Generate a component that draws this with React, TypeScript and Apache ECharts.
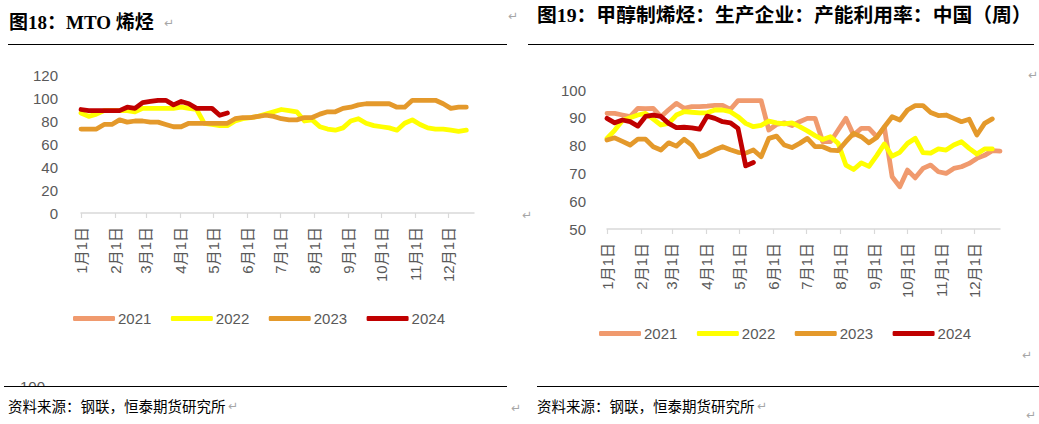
import React, { useEffect, useRef } from "react";
import * as echarts from "echarts";

// ---------- data ----------
const YEARS = ["2021", "2022", "2023", "2024"];
const COLORS = ["#F09A6E", "#FFFF00", "#E4992B", "#C00000"];
const MONTH_START_DAYS = [0, 31, 59, 90, 120, 151, 181, 212, 243, 273, 304, 334];
const MONTH_LABELS = ["1月1日", "2月1日", "3月1日", "4月1日", "5月1日", "6月1日", "7月1日", "8月1日", "9月1日", "10月1日", "11月1日", "12月1日"];
const WEEK_DAYS = 7; // weekly observations

// 图18 MTO 烯烃 (weekly)
const mto2021: number[] = [];
const mto2022 = [87, 84, 86, 89, 89, 89, 89, 88, 91, 91, 91, 91, 91, 92, 91, 90, 78, 77, 76, 76, 80, 82, 83, 84, 86, 88, 90, 89, 88, 80, 81, 75, 73, 72, 74, 80, 82, 78, 76, 75, 74, 72, 78, 81, 77, 74, 73, 73, 72, 71, 72];
const mto2023 = [73, 73, 73, 77, 77, 81, 79, 80, 80, 79, 79, 77, 75, 75, 78, 78, 78, 78, 78, 78, 82, 83, 83, 84, 85, 84, 82, 81, 81, 83, 83, 86, 88, 88, 91, 92, 94, 95, 95, 95, 95, 92, 92, 98, 98, 98, 98, 95, 91, 92, 92];
const mto2024 = [90, 89, 89, 89, 89, 89, 92, 91, 96, 97, 98, 98, 94, 97, 95, 91, 91, 91, 85, 87];

// 图19 甲醇制烯烃 产能利用率 (weekly)
const util2021 = [91.6, 91.6, 91, 90.4, 93.4, 93.3, 93.4, 90.4, 92.9, 95.2, 93.4, 94, 94, 94.2, 94.5, 94.5, 93, 96.2, 96.2, 96.2, 96.2, 85.6, 87.6, 88.2, 87.2, 88.6, 89.8, 89.8, 81.4, 81.4, 85.6, 89.8, 83.8, 86.2, 86.2, 83.2, 86.5, 68.8, 65.2, 71.2, 68.4, 71.8, 73, 70.6, 70, 71.8, 72.4, 73.6, 75.4, 76.5, 78.2, 78];
const util2022 = [82.6, 85.5, 89, 90, 91, 91.6, 89.5, 87.4, 88, 91, 92.2, 92, 91.8, 91.8, 92.8, 92.8, 92.2, 90.4, 88, 86.8, 87.3, 88.8, 88.2, 87.8, 88.2, 86.8, 85.3, 83.6, 82.2, 83.2, 80.8, 73, 71.4, 73.8, 72.5, 76.4, 80.6, 76.2, 77.6, 80.8, 82.6, 77.5, 77.3, 78.8, 78.4, 80.2, 81.4, 79, 77, 78.8, 78.8];
const util2023 = [82, 82.8, 81.5, 80.2, 82.3, 82.3, 79.6, 78.4, 81, 79.8, 82.3, 80.2, 76, 77, 78.5, 79.6, 78.5, 77.6, 77.3, 78.4, 76, 82.6, 83.4, 80.2, 79.3, 80.8, 82.6, 79.6, 79.6, 78.4, 78.2, 81.4, 84.4, 83.2, 81, 82.9, 86.8, 90.4, 89.2, 92.8, 94.4, 94.4, 91.9, 90.8, 91, 89.8, 88.6, 89.5, 83.8, 88, 89.6];
const util2024 = [89.8, 88.2, 89.2, 88.6, 87, 90.5, 91, 90.5, 88, 86.5, 86.6, 86.4, 85.9, 90.6, 89.8, 88.6, 88.2, 86.2, 72.7, 73.9];

const LEFT_SERIES = [mto2021, mto2022, mto2023, mto2024];
const RIGHT_SERIES = [util2021, util2022, util2023, util2024];

const TITLE_LEFT = "图18：MTO 烯烃";
const TITLE_RIGHT = "图19：甲醇制烯烃：生产企业：产能利用率：中国（周）";
const SOURCE = "资料来源：钢联，恒泰期货研究所";

// ---------- helpers ----------
const AXIS_FONT = "'Liberation Sans', 'Noto Sans CJK SC', sans-serif";
const toPairs = (vals: number[]) => vals.map((v, i) => [i * WEEK_DAYS, v]);

function xAxisFor(gridIndex: number) {
  return {
    type: "value",
    gridIndex,
    min: 0,
    max: 357,
    axisLine: { show: true, lineStyle: { color: "#d9d9d9", width: 1.5 } },
    axisTick: { show: true, customValues: MONTH_START_DAYS, length: 5, lineStyle: { color: "#d9d9d9", width: 1.2 } },
    axisLabel: {
      customValues: MONTH_START_DAYS,
      formatter: (v: number) => MONTH_LABELS[MONTH_START_DAYS.indexOf(Math.round(v))] ?? "",
      rotate: 90,
      margin: 14,
      color: "#595959",
      fontSize: 15,
      fontFamily: AXIS_FONT,
    },
    splitLine: { show: false },
  };
}

function yAxisFor(gridIndex: number, min: number, max: number, interval: number, margin: number) {
  return {
    type: "value",
    gridIndex,
    min,
    max,
    interval,
    axisLine: { show: false },
    axisTick: { show: false },
    splitLine: { show: false },
    axisLabel: { color: "#595959", fontSize: 15, fontFamily: AXIS_FONT, margin },
  };
}

function legendAt(left: number, top: number) {
  return {
    left,
    top,
    padding: 0,
    icon: "roundRect",
    itemWidth: 42,
    itemHeight: 5,
    itemGap: 19.5,
    textStyle: { fontSize: 15, color: "#595959", fontFamily: AXIS_FONT, padding: [0, 0, 0, -2] },
    data: YEARS,
  };
}

const retMark = (x: number, y: number) => ({
  type: "text",
  x,
  y,
  z: 10,
  style: { text: "↵", fontSize: 12, fontFamily: "'DejaVu Sans'", fill: "#a6a6a6", verticalAlign: "middle", align: "left" },
});

export default function App() {
  const ref = useRef<HTMLDivElement>(null);

  useEffect(() => {
    if (!ref.current) return;
    const chart = echarts.init(ref.current, undefined, { renderer: "svg" });

    const series: any[] = [];
    [LEFT_SERIES, RIGHT_SERIES].forEach((set, gi) => {
      YEARS.forEach((name, i) => {
        series.push({
          name,
          type: "line",
          xAxisIndex: gi,
          yAxisIndex: gi,
          data: toPairs(set[i]),
          showSymbol: false,
          symbol: "none",
          color: COLORS[i],
          lineStyle: { width: 4.8, color: COLORS[i], cap: "round", join: "round" },
          z: 2 + i,
        });
      });
    });

    const titleFont = "'Liberation Serif', 'Noto Sans CJK SC', serif";
    const srcStyle = { text: SOURCE, fontSize: 14.5, fontFamily: "'Noto Sans CJK SC'", fill: "#000", verticalAlign: "middle" };

    chart.setOption({
      animation: false,
      backgroundColor: "#ffffff",
      grid: [
        { left: 81, top: 75, width: 393, height: 138 },
        { left: 607, top: 90, width: 393, height: 139 },
      ],
      xAxis: [xAxisFor(0), xAxisFor(1)],
      yAxis: [yAxisFor(0, 0, 120, 20, 23), yAxisFor(1, 50, 100, 10, 21)],
      legend: [legendAt(73, 311), legendAt(599, 326)],
      series,
      graphic: [
        // titles
        {
          type: "text", x: 9, y: 22, z: 10,
          style: { text: TITLE_LEFT, fontSize: 19, fontWeight: "bold", fontFamily: titleFont, fill: "#000", verticalAlign: "middle" },
        },
        retMark(164, 23),
        retMark(508, 16),
        {
          type: "text", x: 537, y: 15, z: 10,
          style: { text: TITLE_RIGHT, fontSize: 19.8, fontWeight: "bold", fontFamily: titleFont, fill: "#000", verticalAlign: "middle" },
        },
        retMark(1028, 75),
        retMark(522, 215),
        retMark(1022, 355),
        // top rules
        { type: "line", z: 10, shape: { x1: 8, y1: 44.5, x2: 507, y2: 44.5 }, style: { stroke: "#000", lineWidth: 1.2 } },
        { type: "line", z: 10, shape: { x1: 528, y1: 44.5, x2: 1034, y2: 44.5 }, style: { stroke: "#000", lineWidth: 1.2 } },
        // clipped stray label
        {
          type: "text", x: 20, y: 379, z: 8,
          style: { text: "100", fontSize: 15, fontFamily: AXIS_FONT, fill: "#595959", verticalAlign: "top" },
        },
        { type: "rect", z: 9, shape: { x: 10, y: 386, width: 45, height: 10 }, style: { fill: "#fff" } },
        // bottom rules
        { type: "line", z: 10, shape: { x1: 4, y1: 386.5, x2: 507, y2: 386.5 }, style: { stroke: "#000", lineWidth: 1.2 } },
        { type: "line", z: 10, shape: { x1: 537, y1: 386.5, x2: 1039, y2: 386.5 }, style: { stroke: "#000", lineWidth: 1.2 } },
        // sources
        { type: "text", x: 8, y: 405, z: 10, style: srcStyle },
        retMark(228, 406),
        retMark(511, 408),
        { type: "text", x: 537, y: 405, z: 10, style: srcStyle },
        retMark(757, 406),
        retMark(1026, 415),
      ],
    });

    return () => chart.dispose();
  }, []);

  return (
    <div
      ref={ref}
      style={{ position: "absolute", left: 0, top: 0, width: 1039, height: 424, background: "#fff" }}
    />
  );
}
